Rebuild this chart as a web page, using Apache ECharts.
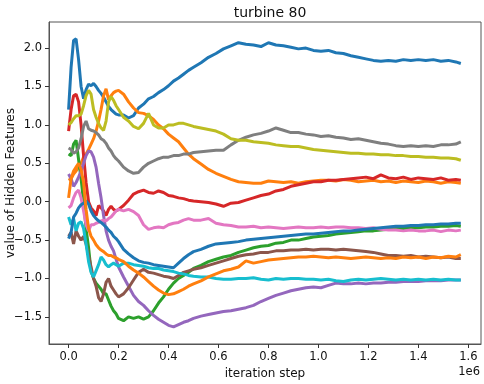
<!DOCTYPE html>
<html>
<head>
<meta charset="utf-8">
<script src="https://cdn.jsdelivr.net/npm/echarts@6/dist/echarts.min.js"></script>
<style>html,body{margin:0;padding:0;background:#fff}#c{width:484px;height:384px}</style>
</head>
<body>
<div id="c"></div>
<script>
const chartTitle = "turbine 80";
const xLabel = "iteration step";
const yLabel = "value of Hidden Features";
const xTicks = [0, 200000, 400000, 600000, 800000, 1000000, 1200000, 1400000, 1600000];
const yTicks = [-1.5, -1.0, -0.5, 0.0, 0.5, 1.0, 1.5, 2.0];

const steps = [0,10000,20000,30000,40000,50000,60000,70000,80000,90000,100000,110000,120000,130000,140000,150000,160000,170000,180000,190000,200000,
220000,240000,260000,280000,300000,320000,340000,360000,380000,400000,420000,440000,460000,480000,500000,
530000,560000,590000,620000,650000,680000,710000,740000,770000,800000,830000,860000,890000,920000,950000,980000,1010000,1040000,1070000,1100000,1130000,1160000,1190000,1220000,1250000,1280000,1310000,1340000,1370000,1400000,1430000,1460000,1490000,1520000,1550000,1570000];

const feat1 = [1.2,1.75,2.1,2.12,1.85,1.5,1.34,1.46,1.53,1.51,1.54,1.5,1.45,1.41,1.36,1.3,1.24,1.2,1.17,1.14,1.13,
1.13,1.09,1.12,1.22,1.27,1.34,1.37,1.42,1.46,1.51,1.57,1.61,1.66,1.71,1.75,
1.81,1.88,1.93,1.99,2.03,2.07,2.05,2.04,2.02,2.07,2.04,2.03,2.01,1.99,2.0,1.97,1.96,1.97,1.94,1.93,1.9,1.88,1.86,1.84,1.83,1.84,1.83,1.85,1.84,1.85,1.84,1.85,1.83,1.84,1.82,1.8];
const feat2 = [0.28,0.3,0.36,0.4,0.45,0.5,0.58,0.62,0.68,0.75,0.82,0.92,1.05,1.2,1.38,1.47,1.33,1.38,1.42,1.44,1.45,
1.4,1.3,1.22,1.16,1.15,1.12,1.07,1.0,0.95,0.88,0.83,0.78,0.7,0.62,0.56,
0.49,0.42,0.37,0.33,0.29,0.26,0.25,0.24,0.24,0.27,0.26,0.25,0.26,0.24,0.26,0.27,0.28,0.28,0.27,0.29,0.28,0.26,0.27,0.28,0.26,0.27,0.25,0.27,0.26,0.25,0.27,0.26,0.24,0.26,0.25,0.24];
const feat3 = [0.62,0.6,0.75,0.8,0.55,0.3,0.0,-0.35,-0.6,-0.9,-1.0,-1.06,-1.1,-1.14,-1.2,-1.2,-1.28,-1.36,-1.42,-1.46,-1.52,
-1.55,-1.5,-1.52,-1.5,-1.53,-1.5,-1.42,-1.32,-1.24,-1.14,-1.06,-1.0,-0.96,-0.92,-0.87,
-0.83,-0.78,-0.75,-0.72,-0.7,-0.66,-0.63,-0.6,-0.58,-0.57,-0.54,-0.53,-0.5,-0.5,-0.48,-0.46,-0.45,-0.44,-0.42,-0.41,-0.4,-0.39,-0.38,-0.38,-0.37,-0.36,-0.35,-0.35,-0.34,-0.34,-0.33,-0.33,-0.32,-0.32,-0.31,-0.32];
const feat4 = [0.92,1.2,1.38,1.4,1.3,1.0,0.6,0.25,0.0,-0.08,-0.12,-0.18,-0.05,-0.08,-0.12,-0.18,-0.1,-0.06,-0.1,-0.12,-0.1,
-0.05,0.02,0.1,0.13,0.15,0.12,0.11,0.14,0.12,0.08,0.07,0.05,0.04,0.02,0.01,
0.0,-0.01,-0.03,-0.06,-0.02,-0.01,0.02,0.05,0.08,0.1,0.14,0.16,0.2,0.22,0.24,0.26,0.26,0.28,0.28,0.29,0.3,0.31,0.32,0.3,0.35,0.31,0.3,0.32,0.29,0.31,0.3,0.29,0.31,0.28,0.29,0.28];
const feat5 = [0.36,0.3,0.2,0.25,0.32,0.4,0.5,0.6,0.66,0.65,0.58,0.45,0.24,0.05,-0.18,-0.38,-0.5,-0.58,-0.64,-0.75,-0.85,
-0.98,-1.1,-1.22,-1.3,-1.35,-1.42,-1.48,-1.53,-1.57,-1.61,-1.63,-1.6,-1.57,-1.55,-1.52,
-1.49,-1.47,-1.45,-1.43,-1.42,-1.4,-1.38,-1.35,-1.3,-1.26,-1.22,-1.19,-1.16,-1.14,-1.12,-1.11,-1.12,-1.09,-1.06,-1.07,-1.07,-1.06,-1.07,-1.06,-1.06,-1.05,-1.05,-1.04,-1.04,-1.04,-1.03,-1.03,-1.03,-1.02,-1.02,-1.02];
const feat6 = [-0.45,-0.4,-0.55,-0.38,-0.45,-0.5,-0.45,-0.55,-0.7,-0.85,-1.0,-1.1,-1.25,-1.3,-1.2,-1.05,-1.0,-1.1,-1.15,-1.2,-1.24,
-1.2,-1.12,-1.02,-0.92,-0.88,-0.92,-0.93,-0.95,-0.97,-0.98,-1.0,-0.96,-0.92,-0.9,-0.88,
-0.86,-0.83,-0.8,-0.77,-0.74,-0.71,-0.69,-0.68,-0.66,-0.66,-0.64,-0.64,-0.63,-0.63,-0.62,-0.63,-0.62,-0.62,-0.63,-0.62,-0.63,-0.64,-0.65,-0.66,-0.68,-0.7,-0.7,-0.71,-0.7,-0.72,-0.71,-0.72,-0.73,-0.72,-0.74,-0.74];
const feat7 = [-0.08,-0.05,0.05,0.12,0.15,0.05,-0.12,-0.3,-0.38,-0.3,-0.3,-0.28,-0.27,-0.25,-0.24,-0.25,-0.22,-0.2,-0.16,-0.12,-0.1,
-0.12,-0.1,-0.13,-0.18,-0.3,-0.36,-0.34,-0.33,-0.34,-0.3,-0.28,-0.27,-0.24,-0.22,-0.24,
-0.24,-0.22,-0.28,-0.3,-0.31,-0.33,-0.33,-0.32,-0.34,-0.33,-0.34,-0.35,-0.34,-0.33,-0.34,-0.34,-0.33,-0.34,-0.33,-0.33,-0.34,-0.34,-0.35,-0.34,-0.36,-0.37,-0.37,-0.38,-0.37,-0.38,-0.38,-0.37,-0.39,-0.37,-0.38,-0.37];
const feat8 = [0.7,0.68,0.63,0.65,0.7,0.82,0.98,1.05,0.95,0.93,0.92,0.9,0.87,0.82,0.8,0.76,0.7,0.66,0.6,0.56,0.53,
0.45,0.4,0.37,0.38,0.45,0.5,0.53,0.56,0.58,0.58,0.6,0.6,0.62,0.62,0.64,
0.65,0.66,0.67,0.67,0.74,0.8,0.84,0.87,0.89,0.92,0.96,0.93,0.9,0.9,0.88,0.87,0.85,0.86,0.84,0.83,0.81,0.82,0.8,0.78,0.76,0.75,0.73,0.72,0.73,0.72,0.73,0.72,0.74,0.74,0.75,0.78];
const feat9 = [1.0,1.03,1.08,1.12,1.12,1.14,1.25,1.38,1.45,1.4,1.2,1.1,1.02,0.96,0.93,1.05,1.3,1.37,1.32,1.25,1.2,
1.1,1.05,0.98,0.95,1.02,1.15,1.0,0.96,0.96,1.0,1.0,1.02,1.02,1.0,0.98,
0.96,0.94,0.92,0.88,0.82,0.8,0.8,0.78,0.77,0.76,0.74,0.73,0.72,0.72,0.7,0.68,0.67,0.66,0.65,0.64,0.63,0.63,0.62,0.62,0.61,0.61,0.6,0.6,0.59,0.59,0.58,0.58,0.57,0.57,0.56,0.54];
const feat10 = [-0.2,-0.3,-0.22,-0.38,-0.28,-0.26,-0.35,-0.55,-0.78,-0.92,-0.98,-0.9,-0.82,-0.72,-0.76,-0.82,-0.85,-0.82,-0.8,-0.82,-0.84,
-0.8,-0.8,-0.82,-0.83,-0.84,-0.86,-0.87,-0.87,-0.89,-0.9,-0.91,-0.93,-0.94,-0.96,-0.97,
-0.98,-0.98,-1.0,-1.01,-1.01,-1.0,-1.0,-0.99,-1.01,-1.02,-1.0,-1.01,-1.0,-1.0,-1.01,-1.01,-1.02,-1.01,-1.03,-1.04,-1.02,-1.01,-1.02,-1.01,-1.0,-1.01,-1.02,-1.01,-1.02,-1.01,-1.02,-1.01,-1.02,-1.01,-1.02,-1.02];
const feat11 = [-0.48,-0.4,-0.2,-0.15,-0.08,-0.04,-0.02,0.01,-0.03,-0.12,-0.18,-0.22,-0.25,-0.27,-0.3,-0.33,-0.37,-0.4,-0.45,-0.48,-0.52,
-0.62,-0.68,-0.73,-0.77,-0.79,-0.8,-0.82,-0.83,-0.84,-0.85,-0.86,-0.8,-0.74,-0.69,-0.65,
-0.62,-0.58,-0.55,-0.54,-0.53,-0.52,-0.5,-0.49,-0.48,-0.47,-0.46,-0.45,-0.44,-0.43,-0.42,-0.42,-0.41,-0.4,-0.39,-0.38,-0.38,-0.37,-0.36,-0.35,-0.34,-0.33,-0.32,-0.32,-0.31,-0.31,-0.3,-0.3,-0.29,-0.29,-0.28,-0.28];
const feat12 = [0.05,0.3,0.4,0.45,0.5,0.42,0.25,-0.1,-0.35,-0.45,-0.5,-0.56,-0.6,-0.63,-0.65,-0.68,-0.7,-0.7,-0.72,-0.73,-0.75,
-0.78,-0.84,-0.89,-0.93,-0.98,-1.04,-1.1,-1.15,-1.19,-1.21,-1.2,-1.17,-1.14,-1.1,-1.07,
-1.03,-0.98,-0.94,-0.9,-0.88,-0.85,-0.77,-0.8,-0.78,-0.76,-0.75,-0.74,-0.73,-0.72,-0.72,-0.71,-0.72,-0.73,-0.72,-0.73,-0.74,-0.73,-0.72,-0.73,-0.74,-0.73,-0.74,-0.72,-0.73,-0.72,-0.74,-0.72,-0.73,-0.71,-0.72,-0.69];

const features = [feat1, feat2, feat3, feat4, feat5, feat6, feat7, feat8, feat9, feat10, feat11, feat12];
const colors = ['#1f77b4','#ff7f0e','#2ca02c','#d62728','#9467bd','#8c564b','#e377c2','#7f7f7f','#bcbd22','#17becf','#1f77b4','#ff7f0e'];

const FONT = 'DejaVu Sans';
const fmtNum = v => {
  const s = Math.abs(v).toFixed(1);
  return v < -1e-9 ? '\u2212' + s : s;
};

const chart = echarts.init(document.getElementById('c'), null, {renderer: 'canvas'});
chart.setOption({
  animation: false,
  backgroundColor: '#fff',
  title: {
    text: chartTitle, left: 265, top: 1, textAlign: 'center',
    textStyle: {fontFamily: FONT, fontSize: 14, fontWeight: 'normal', color: '#111'}
  },
  grid: {left: 49, right: 3, top: 22, bottom: 40, containLabel: false, outerBoundsMode: 'none',
    show: true, borderColor: '#555', borderWidth: 1, backgroundColor: 'transparent'},
  xAxis: {
    type: 'value', min: -78400, max: 1650800,
    name: xLabel, nameLocation: 'middle', nameGap: 24, nameMoveOverlap: false,
    nameTextStyle: {fontFamily: FONT, fontSize: 12, color: '#111'},
    axisLine: {show: true, onZero: false, lineStyle: {color: '#555', width: 1}},
    axisTick: {show: true, length: 4, customValues: xTicks, lineStyle: {color: '#333'}},
    axisLabel: {customValues: xTicks, margin: 7, fontFamily: FONT, fontSize: 11.5, color: '#111',
      formatter: v => (v / 1e6).toFixed(1)},
    splitLine: {show: false}
  },
  yAxis: {
    type: 'value', min: -1.853, max: 2.340,
    name: yLabel, nameLocation: 'middle', nameGap: 32, nameRotate: 90, nameMoveOverlap: false,
    nameTextStyle: {fontFamily: FONT, fontSize: 12, color: '#111'},
    axisLine: {show: true, onZero: false, lineStyle: {color: '#555', width: 1}},
    axisTick: {show: true, length: 4, customValues: yTicks, lineStyle: {color: '#333'}},
    axisLabel: {customValues: yTicks, margin: 7, fontFamily: FONT, fontSize: 11.5, color: '#111',
      formatter: fmtNum},
    splitLine: {show: false}
  },
  graphic: [{
    type: 'text', right: 4, top: 366,
    style: {text: '1e6', fontFamily: FONT, fontSize: 11.5, fill: '#111'}
  }],
  series: features.map((vals, i) => ({
    type: 'line',
    data: steps.map((s, j) => [s, vals[j]]),
    showSymbol: false,
    symbol: 'none',
    lineStyle: {color: colors[i], width: 3},
    itemStyle: {color: colors[i]},
    z: 2 + i
  }))
});
</script>
</body>
</html>
